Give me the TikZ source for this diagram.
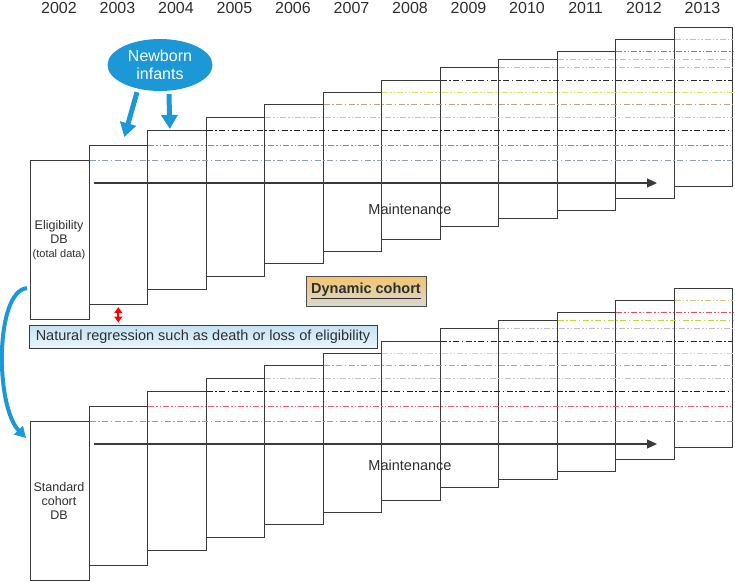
\documentclass[tikz,border=0pt]{standalone}
\usepackage{fontspec}
\setmainfont{Liberation Sans}
\usetikzlibrary{arrows.meta,shapes.geometric,calc}
\definecolor{nbblue}{HTML}{1C98D6}
\definecolor{boxline}{HTML}{3A3A3A}
\definecolor{txt}{HTML}{2E2E2E}
\definecolor{regtop}{HTML}{C2E2F6}
\definecolor{regbot}{HTML}{EAF5FC}
\definecolor{dyntop}{HTML}{F5C46A}
\definecolor{dynbot}{HTML}{D8D8D2}
\definecolor{cA}{HTML}{8E9FB0}
\definecolor{cB}{HTML}{E0607A}
\definecolor{cC}{HTML}{1E1E1E}
\definecolor{cD}{HTML}{C4C4C4}
\definecolor{cE}{HTML}{B5A58F}
\definecolor{cF}{HTML}{E6E060}
\definecolor{cG}{HTML}{2A2A2A}
\definecolor{cH}{HTML}{BDBDC4}
\definecolor{cI}{HTML}{C2D63A}
\definecolor{cJ}{HTML}{E4506A}
\definecolor{cK}{HTML}{D9C27E}
\tikzset{
  yearbox/.style={draw=boxline, line width=1.1pt, anchor=north west, inner sep=0pt,
    minimum width=58.5pt, minimum height=159pt},
  dashA/.style={line width=1pt, dash pattern=on 6pt off 2.5pt on 1.5pt off 2.5pt},
  dashB/.style={line width=1pt, dash pattern=on 6pt off 2pt on 1.5pt off 2pt on 1.5pt off 2pt},
  yearlbl/.style={anchor=base, inner sep=0pt, text=txt, font=\fontsize{16}{19}\selectfont},
  mainlbl/.style={anchor=base, inner sep=0pt, text=txt, font=\fontsize{14.5}{17}\selectfont},
  maintarrow/.style={draw=boxline, line width=1.1pt, -{Triangle[length=10pt,width=9pt]}},
  dblbl/.style={align=center, inner sep=0pt, text=txt, font=\fontsize{12.5}{14}\selectfont},
  nbarrow/.style={draw=nbblue, line width=5pt, -{Triangle[length=14pt,width=16pt]}},
  curvarrow/.style={draw=nbblue, line width=4pt, -{Triangle[length=11pt,width=12pt]}},
  redarr/.style={draw=red, line width=2pt, {Triangle[length=6pt,width=8pt]}-{Triangle[length=6pt,width=8pt]}},
  regbox/.style={draw=boxline, line width=1pt, top color=regtop, bottom color=regbot,
    minimum width=348pt, minimum height=23pt, inner sep=0pt, text=txt,
    font=\fontsize{14.5}{17}\selectfont},
  dynbox/.style={draw=boxline!90, line width=1pt, top color=dyntop, bottom color=dynbot,
    minimum width=120pt, minimum height=30pt, inner sep=0pt, text=txt,
    font=\fontsize{14.5}{17}\selectfont\bfseries}
}
\begin{document}
\begin{tikzpicture}[x=1pt,y=-1pt]
\useasboundingbox[fill=white] (0,0) rectangle (735,581);
% year boxes, top (dynamic) and bottom (standard)
\foreach \i/\yy in {0/160,1/145,2/130,3/117,4/104,5/92,6/80,7/67,8/59,9/51,10/39,11/27} {
  \node[yearbox] (t\i) at ({30+58.5*\i},\yy) {};
  \node[yearbox] (b\i) at ({30+58.5*\i},{\yy+261}) {};
  \pgfmathtruncatemacro{\yr}{2002+\i}
  \node[yearlbl] (y\i) at ({59+58.5*\i},13.3) {\yr};
}
% continuing dash-dot lines
\foreach \i/\c/\d in {0/cA/dashA,1/cB/dashB,2/cC/dashA,3/cD/dashB,4/cE/dashA,5/cF/dashB,6/cG/dashA,7/cH/dashB,8/cI/dashA,9/cJ/dashB,10/cK/dashB} {
  \draw[\d, draw=\c] (t\i.north east) -- (t\i.north east -| t11.east);
  \draw[\d, draw=\c] (b\i.north east) -- (b\i.north east -| b11.east);
}
% maintenance arrows
\coordinate (ma1) at (94,183);
\coordinate (ma2) at (657,183);
\coordinate (mb1) at (94,444);
\coordinate (mb2) at (657,444);
\draw[maintarrow] (ma1) -- (ma2);
\draw[maintarrow] (mb1) -- (mb2);
\node[mainlbl] (mt) at (410,214.3) {Maintenance};
\node[mainlbl] (mb) at (410,470) {Maintenance};
% DB labels
\node[dblbl] (elig) at (59,240) {Eligibility\\DB\\{\fontsize{11}{13}\selectfont(total data)}};
\node[dblbl] (std) at (59,501) {Standard\\cohort\\DB};
% newborn infants
\node[ellipse, fill=nbblue, minimum width=105pt, minimum height=52pt, inner sep=0pt,
  text=white, align=center, font=\fontsize{16}{18}\selectfont] (nb) at (160,65) {Newborn\\infants};
\draw[nbarrow] ([xshift=-23pt,yshift=-1pt]nb.south) -- ([xshift=6pt,yshift=8pt]t1.north);
\draw[nbarrow] ([xshift=9pt,yshift=-3pt]nb.south) -- ([xshift=-7pt,yshift=1pt]t2.north);
% labels
\node[dynbox] (dyn) at (366,291) {\underline{Dynamic cohort}};
\node[regbox] (reg) at (203,336.5) {Natural regression such as death or loss of eligibility};
\draw[redarr] ([yshift=-2pt]t1.south) -- ([yshift=2pt]t1.south |- reg.north);
% eligibility -> standard cohort
\draw[curvarrow] ([xshift=-3pt,yshift=32pt]t0.south west) .. controls +(-32,3) and +(-31,-32) .. ([xshift=-4pt,yshift=-17pt]b0.north west);
\end{tikzpicture}
\end{document}
